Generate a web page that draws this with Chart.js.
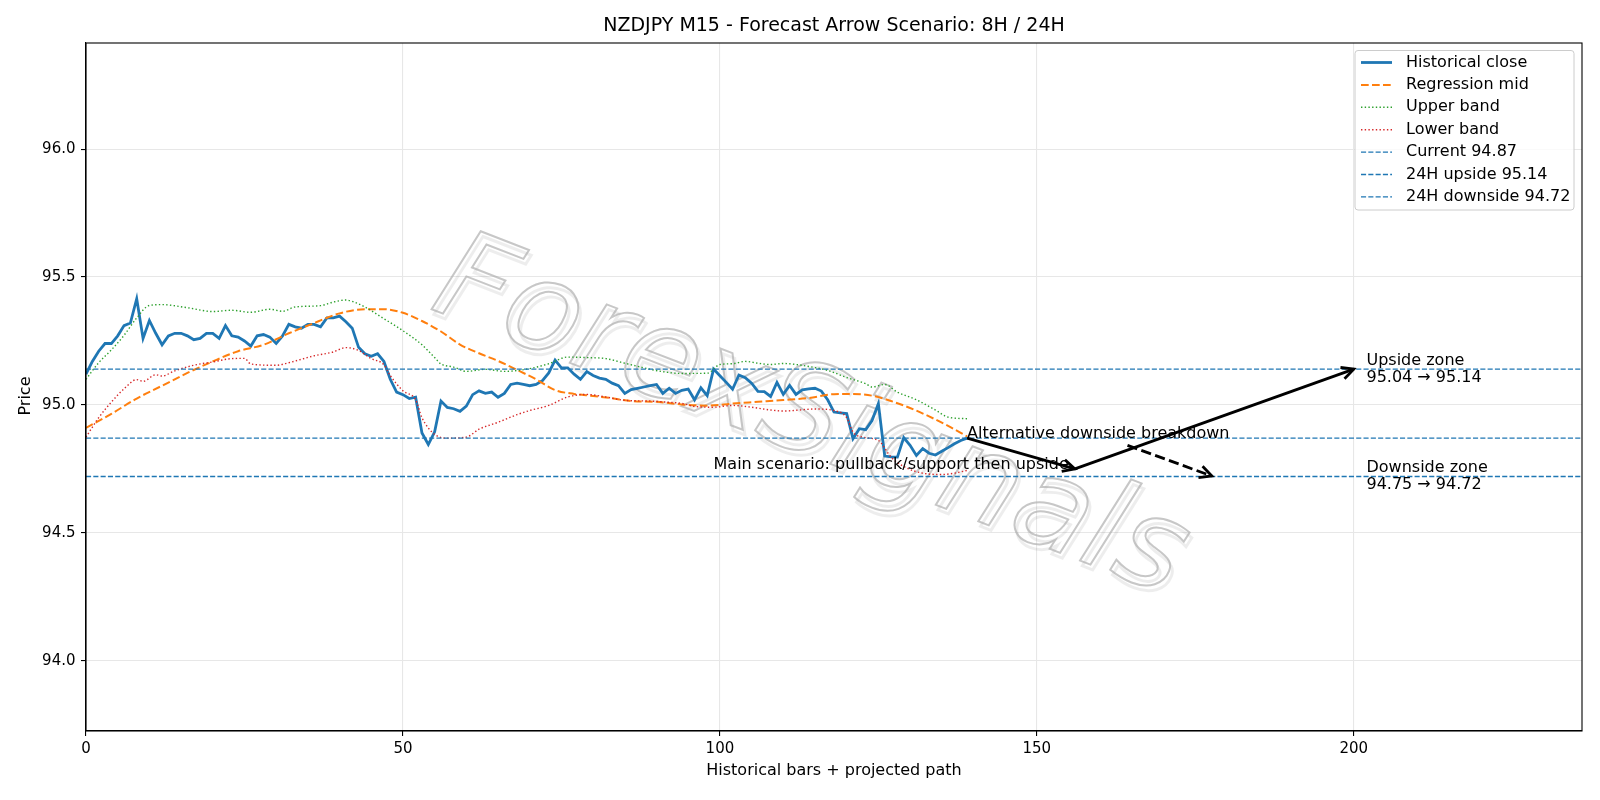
<!DOCTYPE html>
<html>
<head>
<meta charset="utf-8">
<script src="https://cdn.jsdelivr.net/npm/chart.js@4.4.1/dist/chart.umd.min.js"></script>
<style>
  html, body { margin: 0; padding: 0; background: #fff; }
  #caixa { width: 1600px; height: 800px; }
</style>
</head>
<body>
<div id="caixa"><canvas id="grafico" width="1600" height="800"></canvas></div>
<script>
// fechamentos (um por barra, x = índice)
var closes = [
  95.12, 95.17, 95.21, 95.24, 95.24, 95.27, 95.31, 95.32, 95.415, 95.26,
  95.33, 95.28, 95.235, 95.27, 95.28, 95.28, 95.27, 95.255, 95.26, 95.28,
  95.28, 95.26, 95.31, 95.27, 95.265, 95.25, 95.23, 95.27, 95.275, 95.265,
  95.24, 95.27, 95.315, 95.305, 95.30, 95.315, 95.315, 95.305, 95.34, 95.34,
  95.347, 95.325, 95.30, 95.225, 95.20, 95.19, 95.20, 95.17, 95.10, 95.05,
  95.04, 95.025, 95.03, 94.89, 94.845, 94.895, 95.015, 94.99, 94.985, 94.975,
  94.995, 95.04, 95.055, 95.045, 95.05, 95.03, 95.045, 95.08, 95.085, 95.08,
  95.075, 95.08, 95.095, 95.125, 95.175, 95.145, 95.145, 95.12, 95.10, 95.13,
  95.115, 95.105, 95.10, 95.085, 95.075, 95.045, 95.06, 95.065, 95.07, 95.075,
  95.08, 95.045, 95.065, 95.045, 95.057, 95.062, 95.02, 95.067, 95.036, 95.14,
  95.114, 95.088, 95.061, 95.117, 95.106, 95.085, 95.053, 95.052, 95.033, 95.088,
  95.041, 95.076, 95.041, 95.059, 95.063, 95.065, 95.054, 95.02, 94.972, 94.969,
  94.966, 94.868, 94.907, 94.903, 94.939, 95.005, 94.80, 94.797, 94.796, 94.872,
  94.842, 94.802, 94.829, 94.811, 94.804, 94.819, 94.833, 94.848, 94.861, 94.87
];

// linha de regressão (amostrada)
var midX = [0, 4, 8, 12, 16, 20, 24, 28, 32, 36, 40, 44, 47, 50, 53, 56, 59, 62, 65, 68,
  71, 74, 77, 80, 83, 86, 90, 94, 98, 102, 106, 110, 114, 118, 121, 124, 127, 130, 133, 136, 139];
var midY = [94.91, 94.965, 95.025, 95.075, 95.125, 95.17, 95.21, 95.235, 95.28, 95.32,
  95.358, 95.374, 95.374, 95.36, 95.328, 95.287, 95.236, 95.202, 95.172, 95.137,
  95.10, 95.058, 95.043, 95.035, 95.026, 95.015, 95.012, 95.002, 94.997, 95.005,
  95.012, 95.019, 95.027, 95.042, 95.043, 95.036, 95.015, 94.988, 94.955, 94.918, 94.877];

// banda superior
var upperX = [0, 2, 4, 6, 8, 10, 12, 16, 20, 23, 26, 29, 31, 33, 37, 39, 41, 42, 44, 47,
  50, 53, 55, 56, 58, 60, 63, 66, 70, 73, 76, 79, 82, 85, 88, 91, 94, 98, 100, 102,
  104, 106, 108, 110, 112, 115, 117, 120, 123, 124, 126, 128, 131, 134, 136, 139];
var upperY = [95.10, 95.165, 95.215, 95.272, 95.34, 95.389, 95.392, 95.38, 95.365, 95.37,
  95.362, 95.374, 95.366, 95.383, 95.388, 95.402, 95.41, 95.405, 95.383, 95.337,
  95.29, 95.235, 95.185, 95.16, 95.148, 95.131, 95.139, 95.131, 95.142, 95.161,
  95.187, 95.185, 95.181, 95.163, 95.145, 95.13, 95.123, 95.124, 95.158, 95.161,
  95.17, 95.163, 95.158, 95.162, 95.158, 95.146, 95.135, 95.107, 95.083, 95.07,
  95.08, 95.05, 95.02, 94.98, 94.952, 94.946];

// banda inferior
var lowerX = [0, 2, 4, 6, 8, 9, 11, 12, 14, 17, 20, 23, 25, 26, 30, 32, 36, 39, 41, 43,
  45, 47, 48, 50, 52, 53, 55, 57, 60, 62, 65, 68, 70, 73, 76, 79, 82, 85, 89, 92,
  94, 96, 99, 102, 105, 108, 110, 113, 115, 118, 120, 121, 123, 125, 127, 129, 132, 135, 137, 139];
var lowerY = [94.874, 94.95, 95.011, 95.063, 95.099, 95.092, 95.118, 95.113, 95.133, 95.155,
  95.168, 95.181, 95.182, 95.16, 95.155, 95.165, 95.192, 95.207, 95.224, 95.213,
  95.181, 95.157, 95.115, 95.055, 95.02, 94.95, 94.885, 94.87, 94.874, 94.905,
  94.932, 94.962, 94.978, 94.998, 95.031, 95.041, 95.031, 95.018, 95.015, 95.01,
  95.006, 94.994, 94.991, 94.998, 94.991, 94.98, 94.976, 94.981, 94.984, 94.978,
  94.95, 94.894, 94.872, 94.861, 94.796, 94.759, 94.733, 94.728, 94.733, 94.744];

// níveis horizontais
var levelNames = ["Current 94.87", "24H upside 95.14", "24H downside 94.72"];
var levelValues = [94.87, 95.14, 94.72];

// setas do cenário
var pathX = [139, 156, 200];
var pathY = [94.87, 94.75, 95.14];
var altX = [164.3, 177.6];
var altY = [94.842, 94.722];

// textos no gráfico
var noteTexts = ["Alternative downside breakdown", "Main scenario: pullback/support then upside"];
var noteX = [139, 99];
var noteY = [94.87, 94.75];
var zoneTexts = [["Upside zone", "95.04 \u2192 95.14"], ["Downside zone", "94.75 \u2192 94.72"]];
var zoneX = [202, 202];
var zoneY = [95.14, 94.72];

// eixos
var xTicks = [0, 50, 100, 150, 200];
var yTicks = [94.0, 94.5, 95.0, 95.5, 96.0];
var xMin = 0, xMax = 236;
var yMin = 93.725, yMax = 96.415;

var fonte = "'DejaVu Sans', 'Liberation Sans', sans-serif";

function pontos(xs, ys) {
  var r = [];
  for (var i = 0; i < xs.length; i++) r.push({ x: xs[i], y: ys[i] });
  return r;
}

var histData = closes.map(function(v, i) { return { x: i, y: v }; });

var datasets = [
  { label: "Historical close", data: histData, borderColor: "#1f77b4", borderWidth: 2.8, order: 7 },
  { label: "Regression mid", data: pontos(midX, midY), borderColor: "#ff7f0e", borderWidth: 2, borderDash: [7.7, 3.3], cubicInterpolationMode: "monotone", order: 6 },
  { label: "Upper band", data: pontos(upperX, upperY), borderColor: "#2ca02c", borderWidth: 1.4, borderDash: [1.4, 2.3], cubicInterpolationMode: "monotone", order: 5 },
  { label: "Lower band", data: pontos(lowerX, lowerY), borderColor: "#d62728", borderWidth: 1.4, borderDash: [1.4, 2.3], cubicInterpolationMode: "monotone", order: 4 }
];
for (var k = 0; k < levelNames.length; k++) {
  datasets.push({
    label: levelNames[k],
    data: [{ x: xMin, y: levelValues[k] }, { x: xMax, y: levelValues[k] }],
    borderColor: "#1f77b4", borderWidth: 1.4, borderDash: [5.1, 2.2], order: 3 - k
  });
}
datasets.forEach(function(d) {
  d.pointRadius = 0;
  d.fill = false;
  d.tension = 0;
});

function seta(ctx, x1, y1, x2, y2, tracejada) {
  ctx.save();
  ctx.strokeStyle = "#000";
  ctx.lineWidth = 2.8;
  ctx.lineCap = "butt";
  ctx.setLineDash(tracejada ? [10.3, 4.4] : []);
  ctx.beginPath();
  ctx.moveTo(x1, y1);
  ctx.lineTo(x2, y2);
  ctx.stroke();
  // ponta da seta
  var ang = Math.atan2(y2 - y1, x2 - x1);
  var comp = 12, larg = 6;
  ctx.setLineDash([]);
  ctx.lineJoin = "miter";
  ctx.beginPath();
  ctx.moveTo(x2 - comp * Math.cos(ang) + larg * Math.sin(ang), y2 - comp * Math.sin(ang) - larg * Math.cos(ang));
  ctx.lineTo(x2, y2);
  ctx.lineTo(x2 - comp * Math.cos(ang) - larg * Math.sin(ang), y2 - comp * Math.sin(ang) + larg * Math.cos(ang));
  ctx.stroke();
  ctx.restore();
}

var desenhos = {
  id: "desenhos",
  beforeDatasetsDraw: function(chart) {
    // marca d'água
    var ctx = chart.ctx, a = chart.chartArea;
    ctx.save();
    ctx.beginPath();
    ctx.rect(a.left, a.top, a.right - a.left, a.bottom - a.top);
    ctx.clip();
    ctx.translate(a.left + (a.right - a.left) * 0.484, a.top + (a.bottom - a.top) * 0.55);
    ctx.rotate(0.37);
    ctx.font = "italic 124px " + fonte;
    ctx.textAlign = "center";
    ctx.textBaseline = "middle";
    ctx.lineWidth = 3;
    ctx.strokeStyle = "rgba(0,0,0,0.07)";
    ctx.strokeText("ForexSignals", 4, 4);
    ctx.lineWidth = 2;
    ctx.strokeStyle = "rgba(175,175,175,0.7)";
    ctx.strokeText("ForexSignals", 0, 0);
    ctx.restore();
  },
  afterDatasetsDraw: function(chart) {
    var ctx = chart.ctx, sx = chart.scales.x, sy = chart.scales.y;
    for (var i = 0; i < pathX.length - 1; i++) {
      seta(ctx, sx.getPixelForValue(pathX[i]), sy.getPixelForValue(pathY[i]),
        sx.getPixelForValue(pathX[i + 1]), sy.getPixelForValue(pathY[i + 1]), false);
    }
    seta(ctx, sx.getPixelForValue(altX[0]), sy.getPixelForValue(altY[0]),
      sx.getPixelForValue(altX[1]), sy.getPixelForValue(altY[1]), true);

    ctx.save();
    ctx.fillStyle = "#000";
    ctx.font = "16px " + fonte;
    ctx.textAlign = "left";
    ctx.textBaseline = "alphabetic";
    for (var n = 0; n < noteTexts.length; n++) {
      ctx.fillText(noteTexts[n], sx.getPixelForValue(noteX[n]), sy.getPixelForValue(noteY[n]));
    }
    ctx.textBaseline = "middle";
    for (var z = 0; z < zoneTexts.length; z++) {
      var px = sx.getPixelForValue(zoneX[z]), py = sy.getPixelForValue(zoneY[z]);
      ctx.fillText(zoneTexts[z][0], px, py - 8.5);
      ctx.fillText(zoneTexts[z][1], px, py + 8.5);
    }
    ctx.restore();
  },
  afterDraw: function(chart) {
    var ctx = chart.ctx, a = chart.chartArea;
    ctx.save();
    // moldura completa
    ctx.strokeStyle = "#000";
    ctx.lineWidth = 1.1;
    ctx.strokeRect(a.left, a.top, a.right - a.left, a.bottom - a.top);

    // títulos
    ctx.fillStyle = "#000";
    ctx.textAlign = "center";
    ctx.textBaseline = "middle";
    ctx.font = "19px " + fonte;
    ctx.fillText("NZDJPY M15 - Forecast Arrow Scenario: 8H / 24H", (a.left + a.right) / 2, 26);
    ctx.font = "16px " + fonte;
    ctx.fillText("Historical bars + projected path", (a.left + a.right) / 2, 771);
    ctx.save();
    ctx.translate(25.5, 396);
    ctx.rotate(-Math.PI / 2);
    ctx.fillText("Price", 0, 0);
    ctx.restore();

    // legenda
    var lx = 1355, ly = 50.5, lw = 219, lh = 159.5;
    ctx.fillStyle = "rgba(255,255,255,0.8)";
    ctx.strokeStyle = "#cccccc";
    ctx.lineWidth = 1;
    ctx.beginPath();
    ctx.roundRect(lx, ly, lw, lh, 3);
    ctx.fill();
    ctx.stroke();
    ctx.textAlign = "left";
    ctx.font = "16px " + fonte;
    chart.data.datasets.forEach(function(d, i) {
      var cy = 62.5 + i * 22.4;
      ctx.strokeStyle = d.borderColor;
      ctx.lineWidth = d.borderWidth;
      ctx.setLineDash(d.borderDash || []);
      ctx.beginPath();
      ctx.moveTo(1361, cy);
      ctx.lineTo(1392, cy);
      ctx.stroke();
      ctx.setLineDash([]);
      ctx.fillStyle = "#000";
      ctx.fillText(d.label, 1406, cy);
    });
    ctx.restore();
  }
};

var grafico = new Chart(document.getElementById("grafico").getContext("2d"), {
  type: "line",
  data: { datasets: datasets },
  options: {
    responsive: false,
    animation: false,
    devicePixelRatio: 1,
    layout: { padding: { top: 43, right: 18, bottom: 0, left: 0 } },
    plugins: {
      legend: { display: false },
      tooltip: { enabled: false },
      title: { display: false }
    },
    scales: {
      x: {
        type: "linear",
        min: xMin,
        max: xMax,
        afterBuildTicks: function(s) { s.ticks = xTicks.map(function(v) { return { value: v }; }); },
        afterFit: function(s) { s.height = 69; },
        grid: { color: "#e7e7e7", lineWidth: 1.1, tickColor: "#000", tickLength: 5, tickWidth: 1.1 },
        border: { color: "#000", width: 1.1 },
        ticks: {
          color: "#000",
          padding: 4,
          maxRotation: 0,
          font: { family: fonte, size: 15 },
          callback: function(v) { return String(v); }
        }
      },
      y: {
        type: "linear",
        min: yMin,
        max: yMax,
        afterBuildTicks: function(s) { s.ticks = yTicks.map(function(v) { return { value: v }; }); },
        afterFit: function(s) { s.width = 86; },
        grid: { color: "#e7e7e7", lineWidth: 1.1, tickColor: "#000", tickLength: 5, tickWidth: 1.1 },
        border: { color: "#000", width: 1.1 },
        ticks: {
          color: "#000",
          padding: 5.5,
          font: { family: fonte, size: 15 },
          callback: function(v) { return v.toFixed(1); }
        }
      }
    }
  },
  plugins: [desenhos]
});
</script>
</body>
</html>
